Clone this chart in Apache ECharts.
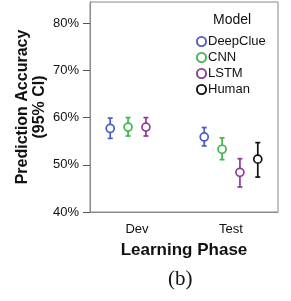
<!DOCTYPE html>
<html>
<head>
<meta charset="utf-8">
<script src="https://cdn.jsdelivr.net/npm/echarts@6/dist/echarts.min.js"></script>
<style>
  html, body { margin: 0; padding: 0; background: #fff; }
  #chart { width: 291px; height: 301px; }
</style>
</head>
<body>
<div id="chart"></div>
<script>
// learning phases on the x axis
const phases = ['Dev', 'Test'];
const models = ['DeepClue', 'CNN', 'LSTM', 'Human'];
const colors = ['#4a5cc4', '#3cb84a', '#8f3a97', '#111111'];

// mean accuracy (%) and 95% CI bounds, one value per phase
const deepClueMean = [57.7, 55.9];
const deepClueLow = [55.6, 54.0];
const deepClueHigh = [59.9, 57.9];

const cnnMean = [58.0, 53.3];
const cnnLow = [56.1, 51.1];
const cnnHigh = [60.0, 55.7];

const lstmMean = [58.0, 48.4];
const lstmLow = [56.1, 45.3];
const lstmHigh = [60.0, 51.3];

const humanMean = [null, 51.2];
const humanLow = [null, 47.4];
const humanHigh = [null, 54.7];

const yTicks = [40, 50, 60, 70, 80];

const means = [deepClueMean, cnnMean, lstmMean, humanMean];
const lows = [deepClueLow, cnnLow, lstmLow, humanLow];
const highs = [deepClueHigh, cnnHigh, lstmHigh, humanHigh];

// hollow ring for the legend
const ringIcon = 'path://M5,0A5,5,0,1,1,5,10A5,5,0,1,1,5,0ZM5,1.7A3.3,3.3,0,1,0,5,8.3A3.3,3.3,0,1,0,5,1.7Z';

const chart = echarts.init(document.getElementById('chart'), null, { renderer: 'canvas' });

function makeSeries(k) {
  const data = [];
  phases.forEach((p, i) => {
    if (means[k][i] != null) data.push([i, means[k][i], lows[k][i], highs[k][i]]);
  });
  return {
    name: models[k],
    type: 'custom',
    data: data,
    itemStyle: { color: colors[k] },
    renderItem: function (params, api) {
      const band = api.size([1, 0])[0];
      const dx = (k - 1.5) * 0.19 * band;
      const c = api.coord([api.value(0), api.value(1)]);
      const lo = api.coord([api.value(0), api.value(2)]);
      const hi = api.coord([api.value(0), api.value(3)]);
      const x = c[0] + dx;
      const cap = 2.5;
      const st = { stroke: colors[k], lineWidth: 1.7, fill: null };
      return {
        type: 'group',
        children: [
          { type: 'line', shape: { x1: x, y1: hi[1], x2: x, y2: c[1] - 4 }, style: st },
          { type: 'line', shape: { x1: x, y1: c[1] + 4, x2: x, y2: lo[1] }, style: st },
          { type: 'line', shape: { x1: x - cap, y1: hi[1], x2: x + cap, y2: hi[1] }, style: st },
          { type: 'line', shape: { x1: x - cap, y1: lo[1], x2: x + cap, y2: lo[1] }, style: st },
          { type: 'circle', shape: { cx: x, cy: c[1], r: 4 }, style: { stroke: colors[k], lineWidth: 1.7, fill: 'rgba(0,0,0,0)' } }
        ]
      };
    }
  };
}

const option = {
  animation: false,
  textStyle: { fontFamily: 'Liberation Sans, Arial, sans-serif' },
  grid: {
    left: 90, right: 13, top: 2, bottom: 89,
    show: true, borderColor: '#8a8a8a', borderWidth: 1
  },
  legend: {
    orient: 'vertical',
    left: 196,
    top: 35,
    padding: 0,
    itemWidth: 11,
    itemHeight: 11,
    itemGap: 3,
    textStyle: { fontSize: 13, color: '#111', padding: [0, 0, 0, -4] },
    data: models.map((m, k) => ({
      name: m,
      icon: ringIcon,
      itemStyle: { color: colors[k], borderWidth: 0 }
    }))
  },
  graphic: [
    {
      type: 'text', left: 213, top: 13,
      style: { text: 'Model', font: '14px "Liberation Sans", Arial', fill: '#111' }
    },
    {
      type: 'text', left: 168, top: 269,
      style: { text: '(b)', font: '21px "Liberation Serif", "Times New Roman", serif', fill: '#111' }
    }
  ],
  xAxis: {
    type: 'category',
    data: phases,
    boundaryGap: true,
    name: 'Learning Phase',
    nameLocation: 'middle',
    nameGap: 30,
    nameTextStyle: { fontSize: 17, fontWeight: 'bold', color: '#111' },
    axisLine: { lineStyle: { color: '#8a8a8a', width: 1 } },
    axisTick: { alignWithLabel: true, length: 7, lineStyle: { color: '#555' } },
    axisLabel: { fontSize: 13, color: '#111', margin: 11 }
  },
  yAxis: {
    type: 'value',
    min: 40,
    max: 84.5,
    name: 'Prediction Accuracy\n(95% CI)',
    nameLocation: 'middle',
    nameMoveOverlap: false,
    nameGap: 42,
    nameRotate: 90,
    nameTextStyle: { fontSize: 16, fontWeight: 'bold', color: '#111', lineHeight: 17 },
    splitLine: { show: false },
    axisLine: { show: true, lineStyle: { color: '#8a8a8a', width: 1 } },
    axisTick: { show: true, length: 7, customValues: yTicks, lineStyle: { color: '#555' } },
    axisLabel: {
      fontSize: 13, color: '#111', margin: 11,
      customValues: yTicks,
      formatter: v => v + '%'
    }
  },
  series: models.map((m, k) => makeSeries(k))
};

chart.setOption(option);
</script>
</body>
</html>
